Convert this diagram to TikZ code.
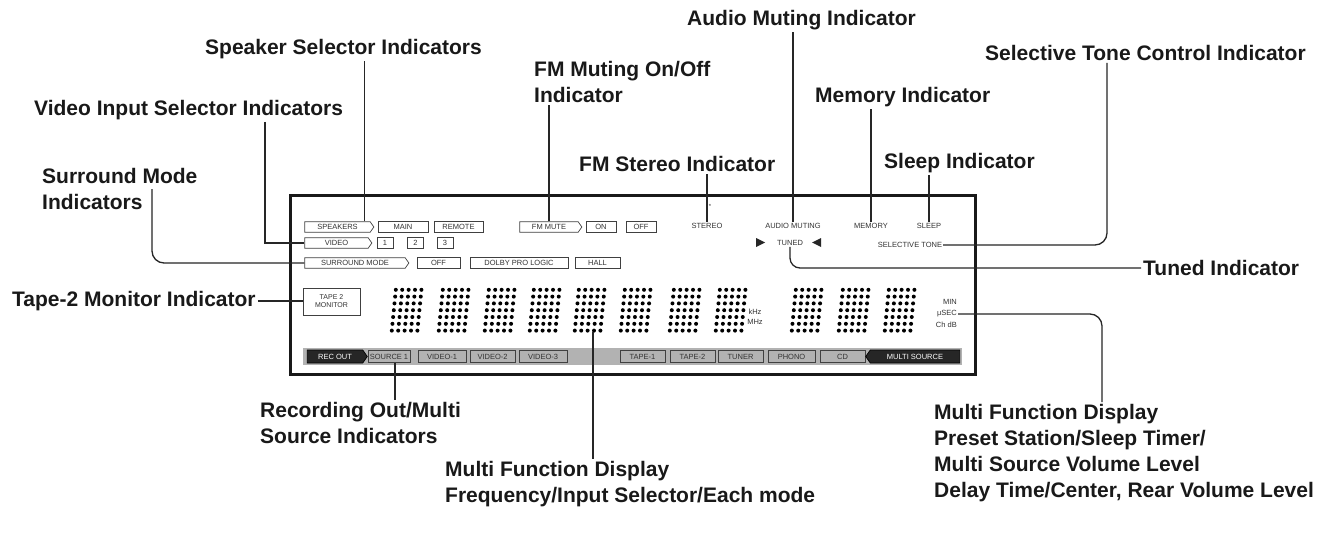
\documentclass[tikz,border=0pt]{standalone}
\usepackage{fontspec}
\setmainfont{Liberation Sans}
\usetikzlibrary{shapes.symbols,positioning}
\newcommand{\lblfont}{\fontsize{21}{26}\selectfont\bfseries}
\newcommand{\dispfont}{\fontsize{7.5}{8.5}\selectfont}

\begin{document}
\begin{tikzpicture}[x=1pt,y=-1pt,
  lbl/.style={font=\lblfont, text=black!90, align=left, anchor=west, inner sep=2pt},
  seg/.style={draw=black!75, line width=0.7pt, font=\dispfont, text=black!80, inner sep=0pt, minimum height=10.5pt},
  tag/.style={seg, shape=signal, signal to=east, signal pointer angle=110},
  tagdark/.style={tag, fill=black!85, draw=black, text=white, minimum height=13pt},
  ind/.style={font=\dispfont, text=black!80, inner sep=1pt},
  digit/.style={minimum width=33pt, minimum height=44pt, inner sep=0pt},
  lead/.style={draw=black!85, line width=1.3pt},
  panel/.style={draw=black!90, line width=3pt}]
\fill[white] (0,0) rectangle (1338,535);
\useasboundingbox (0,0) rectangle (1338,535);

% display frame
\draw[panel] (290,195) rectangle (975,374);
\fill[black!30] (303,348) rectangle (962,365);

% row 1
\node[tag, minimum width=69pt] (spk) at (337.5,227) {SPEAKERS};
\node[seg, minimum width=50pt] (main) at (403,227) {MAIN};
\node[seg, minimum width=49pt] (rem) at (458.5,227) {REMOTE};
\node[tag, minimum width=62pt] (fmm) at (549,227) {FM MUTE};
\node[seg, minimum width=30pt] (on) at (601,227) {ON};
\node[seg, minimum width=30pt] (off) at (641,227) {OFF};
\node[ind] (st) at (707,226) {STEREO};
\node[ind, font=\fontsize{6}{6}\selectfont] (stMark) at (710,206) {*};
\node[ind] (aud) at (793,226) {AUDIO MUTING};
\node[ind] (mem) at (871,226) {MEMORY};
\node[ind] (slp) at (929,226) {SLEEP};

% row 2
\node[tag, minimum width=67pt] (vid) at (336.5,243) {VIDEO};
\node[seg, minimum width=16pt] (v1) at (385,243) {1};
\node[seg, minimum width=16pt] (v2) at (415.5,243) {2};
\node[seg, minimum width=16pt] (v3) at (445,243) {3};
\node[ind] (tun) at (790,243) {TUNED};
\fill[black!85] (756,238) -- (765,242.5) -- (756,247) -- cycle;
\fill[black!85] (821,238) -- (812,242.5) -- (821,247) -- cycle;
\node[ind] (sel) at (910,245) {SELECTIVE TONE};

% row 3
\node[tag, minimum width=104pt] (sur) at (355,263) {SURROUND MODE};
\node[seg, minimum width=43pt] (soff) at (438.5,263) {OFF};
\node[seg, minimum width=98pt] (dolby) at (519,263) {DOLBY PRO LOGIC};
\node[seg, minimum width=45pt] (hall) at (597.5,263) {HALL};

% tape monitor and dot matrix
\node[seg, minimum width=57pt, minimum height=27pt, align=center, font=\fontsize{7}{8}\selectfont] (tape) at (331.5,301.5) {TAPE 2\\MONITOR};
\foreach \dx [count=\i] in {390,437,483,528,573,619,668,714,790,837,883}{
  \node[digit] (d\i) at ({\dx+16.5},310) {};
  \foreach \c in {0,...,4}
    \foreach \r in {0,...,6}
      \fill[black] ({\dx+1.8+\c*6.4+0.67*(6-\r)},{289.8+\r*6.8}) circle (2pt);
}
\node[ind] (khz) at (755,312) {kHz};
\node[ind] (mhz) at (755,322) {MHz};
\node[ind, anchor=east] (min) at (958,302) {MIN};
\node[ind, anchor=east] (mu) at (958,314) {μSEC};
\node[ind, anchor=east] (chdb) at (958,325) {Ch dB};

% bottom row
\node[tagdark, minimum width=60pt] (rec) at (335,356.5) {REC OUT};
\node[seg, minimum width=42pt, minimum height=12pt] (src) at (389,356.5) {SOURCE 1};
\node[seg, minimum width=48pt, minimum height=12pt] (vd1) at (442,356.5) {VIDEO-1};
\node[seg, minimum width=45pt, minimum height=12pt] (vd2) at (492.5,356.5) {VIDEO-2};
\node[seg, minimum width=48pt, minimum height=12pt] (vd3) at (543,356.5) {VIDEO-3};
\node[seg, minimum width=45pt, minimum height=12pt] (tp1) at (642.5,356.5) {TAPE-1};
\node[seg, minimum width=45pt, minimum height=12pt] (tp2) at (692.5,356.5) {TAPE-2};
\node[seg, minimum width=45pt, minimum height=12pt] (tnr) at (740.5,356.5) {TUNER};
\node[seg, minimum width=47pt, minimum height=12pt] (pho) at (791.5,356.5) {PHONO};
\node[seg, minimum width=45pt, minimum height=12pt] (cd) at (842.5,356.5) {CD};
\node[tagdark, signal to=west, minimum width=94pt] (ms) at (915,356.5) {MULTI SOURCE};

% labels
\node[lbl] (lSpk) at (203,49) {Speaker Selector Indicators};
\node[lbl] (lVid) at (32,110) {Video Input Selector Indicators};
\node[lbl] (lSur) at (40,189) {Surround Mode\\Indicators};
\node[lbl] (lTape) at (10,301) {Tape-2 Monitor Indicator};
\node[lbl] (lRec) at (258,423) {Recording Out/Multi\\Source Indicators};
\node[lbl] (lFreq) at (443,484) {Multi Function Display\\Frequency/Input Selector/Each mode};
\node[lbl] (lFmm) at (532,82) {FM Muting On/Off\\Indicator};
\node[lbl] (lSt) at (577,164) {FM Stereo Indicator};
\node[lbl] (lAud) at (685,20) {Audio Muting Indicator};
\node[lbl] (lMem) at (813,97) {Memory Indicator};
\node[lbl] (lSlp) at (882,163) {Sleep Indicator};
\node[lbl] (lSel) at (983,53) {Selective Tone Control Indicator};
\node[lbl] (lTun) at (1141,268) {Tuned Indicator};
\node[lbl] (lMfd) at (932,453) {Multi Function Display\\Preset Station/Sleep Timer/\\Multi Source Volume Level\\Delay Time/Center, Rear Volume Level};

% leaders
\coordinate (spkTop) at ([xshift=27pt]spk.north);
\draw[lead] (spkTop) -- (spkTop |- lSpk.south);
\coordinate (vidBend) at (265,243);
\draw[lead] (lVid.south -| vidBend) -- (vidBend) -- (vid.west);
\coordinate (surBend) at (152,263);
\draw[lead, rounded corners=12pt] (lSur.east -| surBend) -- (surBend) -- (sur.west);
\draw[lead] (lTape.east) -- (lTape.east -| tape.west);
\coordinate (recTop) at ([xshift=6pt]src.south);
\draw[lead] (recTop) -- (recTop |- lRec.north);
\coordinate (frqTop) at ([xshift=3.5pt]d5.south);
\draw[lead] (frqTop) -- (frqTop |- lFreq.north);
\draw[lead] (fmm.north) -- (fmm.north |- lFmm.south);
\draw[lead] (st.north) -- (st.north |- lSt.south);
\draw[lead] (aud.north) -- (aud.north |- lAud.south);
\draw[lead] (mem.north) -- (mem.north |- lMem.south);
\draw[lead] (slp.north) -- (slp.north |- lSlp.south);
\coordinate (selBend) at (1107,245);
\draw[lead, rounded corners=12pt] (lSel.south -| selBend) -- (selBend) -- (sel.east);
\draw[lead, rounded corners=10pt] (tun.south) |- (lTun.west);
\coordinate (mfdBend) at (1102,314);
\draw[lead, rounded corners=12pt] (mu.east) -- (mfdBend) -- (mfdBend |- lMfd.north);
\end{tikzpicture}
\end{document}
